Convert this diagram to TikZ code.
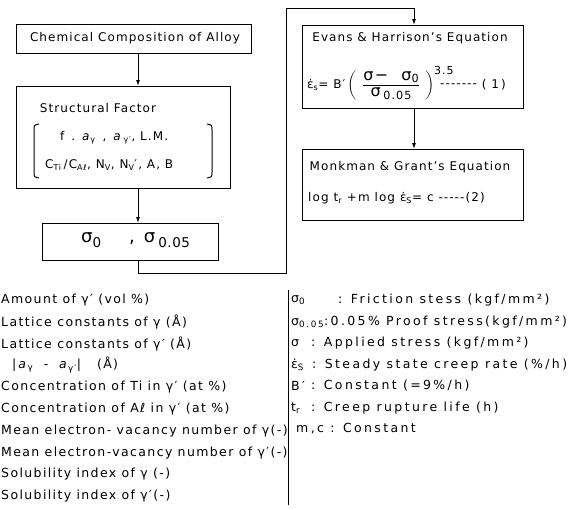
\documentclass[tikz,border=0pt]{standalone}
\usepackage{amsmath}
\usepackage{fontspec}
\setmainfont{DejaVu Sans}[LetterSpace=11]
\usetikzlibrary{arrows.meta}
\newcommand{\edot}{{\addfontfeature{LetterSpace=0}ε̇}}
\newcommand{\dashes}{-{}-{}-{}-{}-}
\tikzset{
  box/.style={draw, line width=1.2pt, inner sep=0pt},
  arr/.style={line width=1pt, -{Latex[length=6pt,width=4pt]}},
  ln/.style={line width=1pt},
  txt/.style={inner sep=0pt, font=\fontsize{12}{14}\selectfont\addfontfeature{LetterSpace=9}},
  lg/.style={inner sep=0pt, anchor=west, font=\fontsize{12.5}{14}\selectfont},
  rg/.style={inner sep=0pt, anchor=west, font=\fontsize{12.5}{14}\selectfont\addfontfeature{LetterSpace=19}},
}
\begin{document}
\begin{tikzpicture}[x=1pt,y=-1pt]
\useasboundingbox (0,0) rectangle (586,509);
% flow boxes
\node[box, minimum width=235, minimum height=29, anchor=north west] (chem) at (16,24) {};
\node[txt] (chemt) at (135,38.5) {Chemical Composition of Alloy};
\node[box, minimum width=214, minimum height=102, anchor=north west] (sf) at (16,86) {};
\node[txt] (sft) at (98,108) {Structural Factor};
\node[txt, anchor=west] (sf1) at (60,138) {f\,\ .\ \,\textit{a}\textsubscript{γ}\, ,\, \textit{a}\,\textsubscript{γ′}, L.M.};
\node[txt, anchor=west] (sf2) at (45,165) {C\textsubscript{Ti}\,/C\textsubscript{Aℓ}, N\textsubscript{V}, N\textsubscript{V}′, A, B};
\draw[ln] (39,124) .. controls (34,125) .. (34,130) -- (34,172) .. controls (34,177) .. (39,178);
\draw[ln] (207,124) .. controls (212,125) .. (212,130) -- (212,172) .. controls (212,177) .. (207,178);
\node[box, minimum width=176, minimum height=37, anchor=north west] (sg) at (42,223) {};
\node[inner sep=0pt, anchor=west, font=\fontsize{18}{20}\selectfont] (sgt) at (81,240) {σ\raisebox{-0.25em}{\fontsize{13.5}{15}\selectfont 0}\hspace{28pt},\hspace{9pt}σ\,\raisebox{-0.25em}{\fontsize{13.5}{15}\selectfont\addfontfeature{LetterSpace=4}0.05}};
\coordinate (ax) at (138,0);
\draw[arr] (chem.south -| ax) -- (sf.north -| ax);
\draw[arr] (sf.south -| ax) -- (sg.north -| ax);
% right boxes
\node[box, minimum width=221, minimum height=83, anchor=north west] (eh) at (302,25) {};
\node[txt] (eht) at (410,38) {Evans \& Harrison's Equation};
\node[txt, anchor=west] (eq1) at (307,83) {\edot\textsubscript{s}= B′\,$\biggl(\hspace{6pt}\dfrac{\mbox{\fontsize{16}{17}\selectfont σ−\ \ σ\textsubscript{0}}}{\mbox{\fontsize{16}{17}\selectfont σ\,\textsubscript{0.05}}}\hspace{5pt}\biggr)^{\mbox{\fontsize{11}{12}\selectfont 3.5}}$\kern-14pt\raisebox{1pt}{-{}-{}-{}-{}-{}-{}-}\ (\ 1\,)};
\node[box, minimum width=221, minimum height=71, anchor=north west] (mg) at (302,149) {};
\node[txt] (mgt) at (410,167) {Monkman \& Grant's Equation};
\node[txt, anchor=west] (eq2) at (308,198) {log t\textsubscript{r} +m log \edot\textsubscript{S}= c \dashes(2)};
\coordinate (ex) at (414,0);
\coordinate (k1) at (286,273);
\coordinate (k2) at (286,8);
\draw[arr] (sg.south -| ax) |- (k1) -- (k2) -| (eh.north -| ex);
\draw[arr] (eh.south -| ex) -- (mg.north -| ex);
% left legend
\node[lg] (l1) at (1,300) {Amount of γ′ (vol \%)};
\node[lg] (l2) at (1,322) {Lattice constants of γ (Å)};
\node[lg] (l3) at (1,344) {Lattice constants of γ′ (Å)};
\node[lg] (l4) at (12,365) {|\,\textit{a}\textsubscript{γ}\ \ -\ \ \textit{a}\textsubscript{γ′}|\ \ \ (Å)};
\node[lg] (l5) at (1,387) {Concentration of Ti in γ′ (at \%)};
\node[lg] (l6) at (1,409) {Concentration of Aℓ in γ′ (at \%)};
\node[lg] (l7) at (1,431) {Mean electron- vacancy number of γ(-)};
\node[lg] (l8) at (1,453) {Mean electron-vacancy number of γ′(-)};
\node[lg] (l9) at (1,474) {Solubility index of γ (-)};
\node[lg] (l10) at (1,496) {Solubility index of γ′(-)};
% right legend
\coordinate (v1) at (288,290);
\coordinate (v2) at (288,505);
\draw[line width=0.7pt] (v1) -- (v2);
\node[rg] (r1s) at (291,300) {σ\textsubscript{0}};
\node[rg] (r1t) at (338,300) {: Friction stess (kgf/mm²)};
\node[rg] (r2) at (291,322) {σ\textsubscript{0.05}:0.05\% Proof stress(kgf/mm²)};
\node[rg] (r3s) at (291,343) {σ};
\node[rg] (r3t) at (311,343) {: Applied stress (kgf/mm²)};
\node[rg] (r4s) at (291,365) {\edot\textsubscript{S}};
\node[rg] (r4t) at (312,365) {: Steady state creep rate (\%/h)};
\node[rg] (r5s) at (291,386) {B′};
\node[rg] (r5t) at (311,386) {: Constant (=9\%/h)};
\node[rg] (r6s) at (291,408) {t\textsubscript{r}};
\node[rg] (r6t) at (311,408) {: Creep rupture life (h)};
\node[rg] (r7) at (296,429) {m,c : Constant};
\end{tikzpicture}
\end{document}
